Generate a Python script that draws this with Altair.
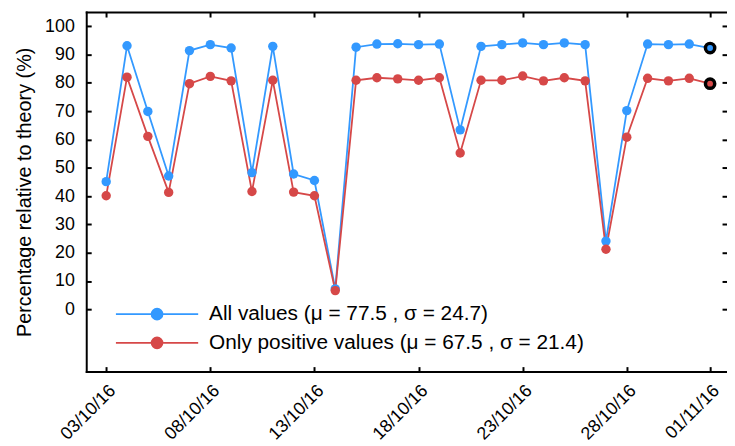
import altair as alt
import pandas as pd

# ---------------- data ----------------
dates = [
    "2016-10-03", "2016-10-04", "2016-10-05", "2016-10-06", "2016-10-07",
    "2016-10-08", "2016-10-09", "2016-10-10", "2016-10-11", "2016-10-12",
    "2016-10-13", "2016-10-14", "2016-10-15", "2016-10-16", "2016-10-17",
    "2016-10-18", "2016-10-19", "2016-10-20", "2016-10-21", "2016-10-22",
    "2016-10-23", "2016-10-24", "2016-10-25", "2016-10-26", "2016-10-27",
    "2016-10-28", "2016-10-29", "2016-10-30", "2016-10-31", "2016-11-01",
]
all_vals = [45.1, 93.1, 69.9, 47.1, 91.4, 93.5, 92.3, 48.3, 92.9, 47.8,
            45.5, 7.2, 92.6, 93.7, 93.8, 93.5, 93.7, 63.4, 92.9, 93.5,
            94.1, 93.5, 94.1, 93.5, 24.1, 70.2, 93.7, 93.5, 93.7, 92.3]
pos_vals = [40.1, 82.0, 61.1, 41.3, 79.7, 82.3, 80.7, 41.6, 80.9, 41.4,
            40.1, 6.6, 80.9, 81.8, 81.4, 80.9, 81.8, 55.2, 80.9, 80.9,
            82.4, 80.7, 81.8, 80.7, 21.2, 60.8, 81.6, 80.7, 81.6, 79.7]
series_names = ["All values (\u03bc = 77.5 , \u03c3 = 24.7)",
                "Only positive values (\u03bc = 67.5 , \u03c3 = 21.4)"]
series_colors = ["#3399ff", "#d64848"]
x_tick_dates = [(2016, 10, 3), (2016, 10, 8), (2016, 10, 13), (2016, 10, 18),
                (2016, 10, 23), (2016, 10, 28), (2016, 11, 1)]
y_ticks = [0, 10, 20, 30, 40, 50, 60, 70, 80, 90, 100]
y_title = "Percentage relative to theory (%)"

rows = []
for name, vals in zip(series_names, [all_vals, pos_vals]):
    for d, v in zip(dates, vals):
        rows.append({"date": d + "T00:00:00", "value": v, "series": name})
df = pd.DataFrame(rows)
df_last = df[df["date"] == dates[-1] + "T00:00:00"]

# ---------------- style ----------------
W, H = 647, 363
FONT = "Liberation Sans"
xt = [alt.DateTime(year=y, month=m, date=d) for (y, m, d) in x_tick_dates]

xscale = alt.Scale(domain=[alt.DateTime(year=2016, month=10, date=2, hours=1),
                           alt.DateTime(year=2016, month=11, date=1, hours=19, minutes=30)],
                   nice=False)
yscale = alt.Scale(domain=[-22, 105], nice=False, zero=False)
cscale = alt.Scale(domain=series_names, range=series_colors)


def tick_axis(orient, offset, values, domain):
    return alt.Axis(orient=orient, offset=offset, values=values, labels=False,
                    ticks=True, tickSize=5, tickWidth=2, tickColor="black",
                    domain=domain, domainColor="black", domainWidth=2,
                    domainCap="square", grid=False, title=None)


ax_x_main = alt.Axis(values=xt, format="%d/%m/%y", labelAngle=-45, labelAlign="right",
                     labelBaseline="top", ticks=False, domain=False, grid=False,
                     labelFontSize=18, labelPadding=10, labelOverlap=False, title=None)
ax_x_bottom_ticks = tick_axis("top", -H, xt, True)
ax_x_top_ticks = tick_axis("bottom", -H, xt, True)

ax_y_main = alt.Axis(values=y_ticks, ticks=False, domain=False, grid=False,
                     labelFontSize=18, labelPadding=12, title=y_title,
                     titleFontSize=20, titleFontWeight="normal", titlePadding=10)
ax_y_left_ticks = tick_axis("right", -W, y_ticks, True)
ax_y_right_ticks = tick_axis("left", -W, y_ticks, False)

LEG_PATH = "M-7.55,0L7.55,0M1,0A1,1,0,1,1,-1,0A1,1,0,1,1,1,0Z"
legend = alt.Legend(title=None, orient="none", legendX=30, legendY=294.5,
                    symbolType=LEG_PATH, symbolSize=121, symbolStrokeWidth=1.8,
                    symbolOffset=31, labelOffset=42, labelFontSize=21, labelFont=FONT,
                    labelColor="black", rowPadding=7, padding=0, labelLimit=800)

lines = alt.Chart(df).mark_line(strokeWidth=1.8).encode(
    x=alt.X("date:T", scale=xscale, axis=ax_x_main),
    y=alt.Y("value:Q", scale=yscale, axis=ax_y_main),
    color=alt.Color("series:N", scale=cscale, legend=legend),
)
points = alt.Chart(df).mark_circle(size=90, opacity=1).encode(
    x=alt.X("date:T", scale=xscale, axis=ax_x_bottom_ticks),
    y=alt.Y("value:Q", scale=yscale, axis=ax_y_left_ticks),
    color=alt.Color("series:N", scale=cscale, legend=legend),
)
last = alt.Chart(df_last).mark_circle(size=88, opacity=1, stroke="black", strokeWidth=3.5).encode(
    x=alt.X("date:T", scale=xscale, axis=ax_x_top_ticks),
    y=alt.Y("value:Q", scale=yscale, axis=ax_y_right_ticks),
    color=alt.Color("series:N", scale=cscale, legend=legend),
)

chart = alt.layer(lines, points, last).resolve_axis(
    x="independent", y="independent"
).properties(
    width=W, height=H,
    autosize=alt.AutoSizeParams(type="none"),
    padding={"left": 79, "top": 2, "right": 0, "bottom": 70},
).configure_view(
    stroke="transparent"
).configure_axis(
    labelFont=FONT, titleFont=FONT, labelColor="black", titleColor="black"
)

chart.save("out.html", embed_options={"renderer": "svg", "actions": False})
